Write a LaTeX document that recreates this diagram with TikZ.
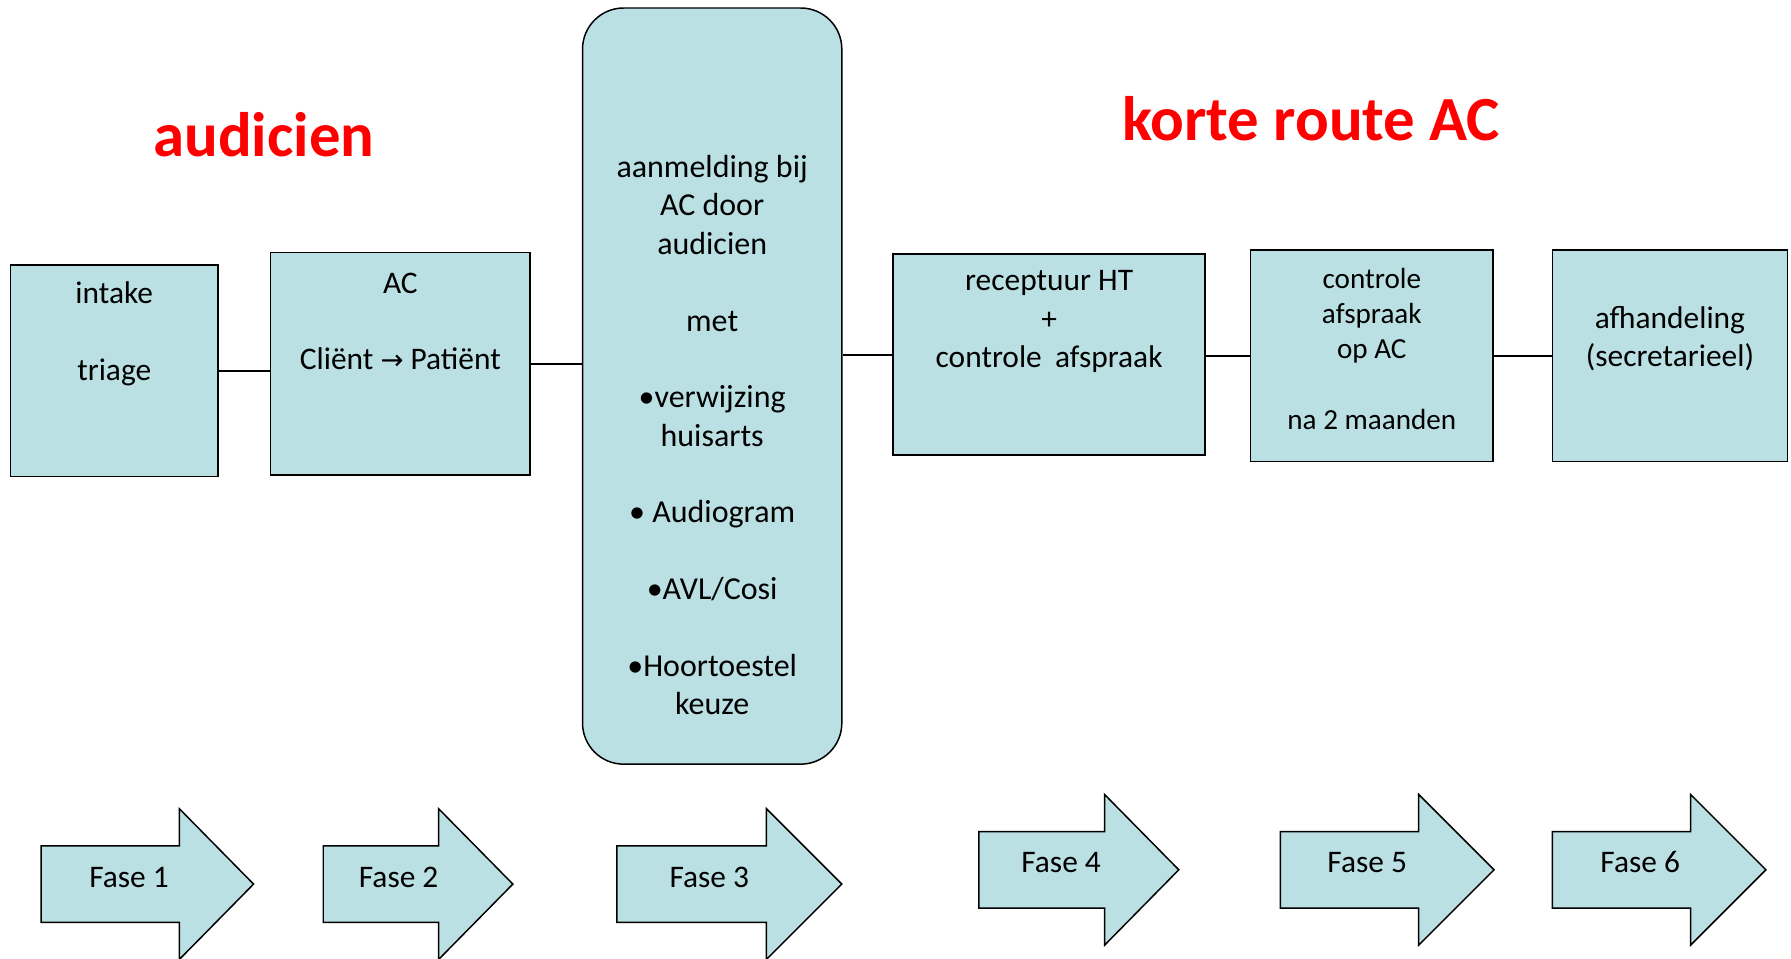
\documentclass[tikz,border=0pt]{standalone}
\usepackage{fontspec}
\setmainfont{Carlito}
\newfontfamily\symf{DejaVu Sans}
\definecolor{boxfill}{HTML}{BBE0E3}
\newcommand\FaseArr[4]{%
  \draw[fasearrow] (#1,#4-33.5) -- (#2,#4-33.5) -- (#2,#4-66) -- (#3,#4) -- (#2,#4+66) -- (#2,#4+33.5) -- (#1,#4+33.5) -- cycle;}
\begin{document}
\begin{tikzpicture}[x=1pt,y=-1pt,
  box/.style={draw=black, fill=boxfill, line width=1.3pt, inner sep=0pt},
  txt/.style={align=center, font=\fontsize{27.5}{33.5}\selectfont, inner sep=0pt},
  conn/.style={draw=black, line width=1.5pt},
  fasearrow/.style={draw=black, fill=boxfill, line width=1.3pt, line join=miter},
  fasetxt/.style={font=\fontsize{27.5}{33}\selectfont, inner sep=0pt},
  title/.style={text=red, font=\fontsize{55}{60}\selectfont\bfseries, inner sep=0pt}]
\useasboundingbox (0,0) rectangle (1568,839);

% titles
\node[title] (ta) at (231,118) {audicien};
\node[title] (tk) at (1148,104) {korte route AC};

% boxes
\node[box, minimum width=182pt, minimum height=185pt] (b1) at (100,324.5) {};
\node[box, minimum width=227pt, minimum height=195pt] (b2) at (350.5,318.5) {};
\node[box, rounded corners=36pt, minimum width=227pt, minimum height=662pt] (big) at (623.5,338) {};
\node[box, minimum width=273pt, minimum height=176pt] (b4) at (918.5,310.5) {};
\node[box, minimum width=212pt, minimum height=185pt] (b5) at (1201,311.5) {};
\node[box, minimum width=206pt, minimum height=185pt] (b6) at (1462,311.5) {};

% texts
\node[txt] (t1) at (100,292) {intake\\[33.5pt]triage};
\node[txt] (t2) at (350.5,281.5) {AC\\[33.5pt]Cliënt {\symf\fontsize{24}{24}\selectfont →} Patiënt};
\node[txt, font=\fontsize{28}{33.6}\selectfont] (t3) at (623.5,381) {aanmelding bij\\AC door\\audicien\\[33.6pt]met\\[33.6pt]•verwijzing\\huisarts\\[33.6pt]• Audiogram\\[33.6pt]•AVL/Cosi\\[33.6pt]•Hoortoestel\\keuze};
\node[txt] (t4) at (918.5,281.5) {receptuur HT\\+\\controle\hspace{0.42em}afspraak};
\node[txt, font=\fontsize{25.5}{30.75}\selectfont] (t5) at (1201,305.5) {controle\\afspraak\\op AC\\[30.75pt]na 2 maanden};
\node[txt] (t6) at (1462,296.5) {afhandeling\\(secretarieel)};

% connectors
\draw[conn] (b1.east) -- (b1.east -| b2.west);
\draw[conn] (b2.east) -- (b2.east -| big.west);
\draw[conn] (b4.west -| big.east) -- (b4.west);
\draw[conn] (b4.east |- b5.west) -- (b5.west);
\draw[conn] (b5.east) -- (b6.west);

% phase arrows
\FaseArr{36}{157}{222}{774}
\FaseArr{283}{384}{449}{774}
\FaseArr{540}{671}{737}{774}
\FaseArr{857}{967}{1032}{761.5}
\FaseArr{1121}{1242}{1308}{761.5}
\FaseArr{1359}{1480}{1546}{761.5}
\node[fasetxt] (f1) at (113,768) {Fase 1};
\node[fasetxt] (f2) at (349,768) {Fase 2};
\node[fasetxt] (f3) at (621,768) {Fase 3};
\node[fasetxt] (f4) at (929,755) {Fase 4};
\node[fasetxt] (f5) at (1197,755) {Fase 5};
\node[fasetxt] (f6) at (1436,755) {Fase 6};
\end{tikzpicture}
\end{document}
